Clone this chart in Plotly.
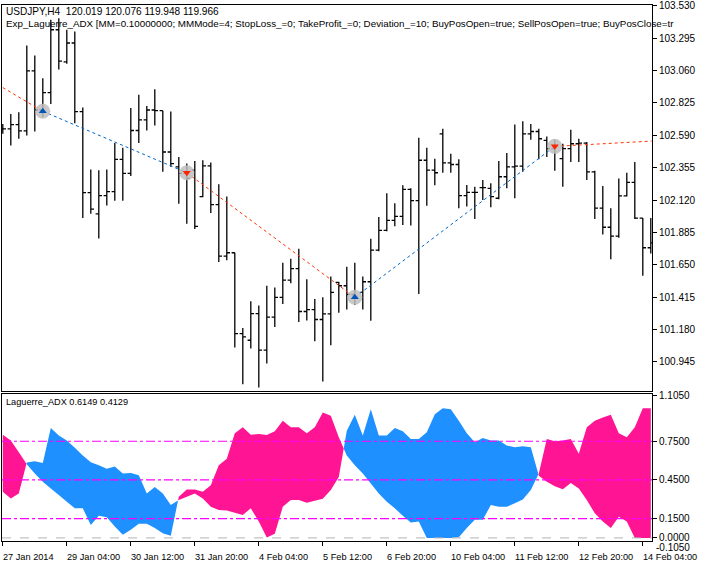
import plotly.graph_objects as go

# ---------------- data ----------------
opens = [102.637,102.637,102.668,102.623,103.059,102.774,102.901,103.357,103.124,103.261,
         102.762,102.174,102.020,102.152,102.181,102.416,102.313,102.625,102.702,102.774,
         102.769,102.469,102.361,102.313,102.337,102.145,102.368,102.087,101.713,101.737,
         101.149,101.101,101.295,101.029,101.269,101.413,101.538,101.622,101.310,101.324,
         101.252,101.293,101.521,101.497,101.435,101.449,101.526,101.756,101.900,101.972,
         102.001,102.198,102.116,102.409,102.337,102.601,102.390,102.378,102.152,102.176,
         102.210,102.205,102.133,102.289,102.361,102.366,102.601,102.618,102.553,102.493,
         102.421,102.493,102.529,102.534,102.325,102.061,101.922,101.857,102.150,102.248,
         101.989,101.773]
highs = [102.673,102.745,102.757,103.242,103.170,103.004,103.429,103.441,103.357,103.345,
         102.793,102.342,102.337,102.342,102.534,102.500,102.788,102.884,102.803,102.925,
         102.769,102.764,102.433,102.385,102.404,102.409,102.392,102.234,102.145,101.737,
         101.190,101.384,101.353,101.497,101.485,101.665,101.694,101.766,101.545,101.401,
         101.413,101.564,101.526,101.636,101.665,101.564,101.838,101.996,102.169,102.097,
         102.227,102.205,102.572,102.500,102.419,102.637,102.457,102.416,102.229,102.217,
         102.265,102.241,102.404,102.462,102.668,102.692,102.673,102.637,102.582,102.558,
         102.529,102.630,102.565,102.541,102.332,102.222,102.061,102.277,102.318,102.397,
         101.989,101.989]
lows = [102.601,102.517,102.565,102.589,102.618,102.721,102.817,103.069,103.110,102.678,
        101.989,102.020,101.840,102.080,102.114,102.114,102.294,102.534,102.625,102.661,
        102.325,102.361,102.092,101.948,101.910,102.140,102.025,101.670,101.682,101.048,
        100.782,101.041,100.758,100.933,101.197,101.365,101.516,101.233,101.245,101.094,
        100.801,101.065,101.300,101.324,101.358,101.324,101.243,101.747,101.893,101.929,
        101.939,101.934,101.437,102.078,102.227,102.318,102.318,102.061,102.073,101.982,
        102.121,102.068,102.126,102.205,102.133,102.325,102.558,102.416,102.433,102.332,
        102.217,102.397,102.397,102.265,101.982,101.869,101.689,101.845,102.145,101.982,
        101.569,101.732]
closes = [102.637,102.668,102.623,103.059,102.774,102.901,103.357,103.129,103.261,102.762,
          102.174,102.054,102.152,102.181,102.416,102.313,102.625,102.702,102.774,102.769,
          102.469,102.385,102.313,102.277,101.929,102.368,102.087,101.713,101.737,101.149,
          101.125,101.295,101.029,101.269,101.413,101.538,101.622,101.310,101.324,101.252,
          101.293,101.449,101.497,101.435,101.413,101.526,101.756,101.900,101.972,102.001,
          102.198,102.116,102.409,102.337,102.318,102.390,102.378,102.152,102.176,102.176,
          102.210,102.145,102.289,102.361,102.366,102.601,102.618,102.565,102.493,102.510,
          102.493,102.529,102.534,102.325,102.061,101.922,101.857,102.150,102.248,101.989,
          101.773,101.809]

adx_a = [0.801,0.755,0.665,0.571,0.499,0.435,0.383,0.332,0.281,0.230,
         0.230,0.101,0.171,0.160,0.088,0.024,0.063,0.109,0.109,0.076,
         0.037,0.017,0.319,0.376,0.376,0.358,0.409,0.563,0.614,0.812,
         0.858,0.801,0.806,0.799,0.827,0.909,0.858,0.858,0.812,0.858,
         0.973,0.947,0.781,0.640,0.563,0.499,0.422,0.345,0.281,0.230,
         0.171,0.119,0.127,0.000,0.000,0.000,0.000,0.006,0.076,0.140,
         0.140,0.255,0.242,0.242,0.268,0.299,0.371,0.499,0.768,0.750,
         0.755,0.768,0.653,0.858,0.909,0.935,0.955,0.812,0.781,0.858,
         1.006,1.006]
adx_b = [0.358,0.306,0.345,0.586,0.594,0.581,0.853,0.794,0.755,0.699,
         0.640,0.588,0.563,0.537,0.555,0.499,0.504,0.486,0.345,0.396,
         0.345,0.255,0.294,0.319,0.345,0.306,0.242,0.217,0.212,0.196,
         0.178,0.230,0.127,0.004,0.032,0.242,0.294,0.294,0.273,0.289,
         0.304,0.371,0.473,0.832,0.955,0.794,0.999,0.794,0.794,0.853,
         0.827,0.768,0.768,0.819,0.960,1.006,0.999,0.909,0.812,0.742,
         0.776,0.755,0.755,0.717,0.704,0.712,0.704,0.483,0.435,0.401,
         0.378,0.427,0.383,0.294,0.191,0.127,0.076,0.165,0.127,0.000,
         0.000,0.000]

trade_x = [0, 5, 23, 44, 69, 81.1]
trade_y = [102.937, 102.765, 102.318, 101.413, 102.510, 102.548]
trade_colors = ["#ff3300", "#0066cc", "#ff3300", "#0066cc", "#ff3300"]
sig_x = [5, 23, 44, 69]
sig_y = [102.765, 102.318, 101.413, 102.510]
sig_kind = ["buy", "sell", "buy", "sell"]

price_ticks = [103.530,103.295,103.060,102.825,102.590,102.355,102.120,101.885,101.650,101.415,101.180,100.945]
ind_ticks = [1.105, 0.75, 0.45, 0.15, 0.0]
levels = [0.75, 0.45, 0.15]
date_pos = [0, 8, 16, 24, 32, 40, 48, 56, 64, 72, 80]
date_labels = ["27 Jan 2014", "29 Jan 04:00", "30 Jan 12:00", "31 Jan 20:00", "4 Feb 04:00",
               "5 Feb 12:00", "6 Feb 20:00", "10 Feb 04:00", "11 Feb 12:00", "12 Feb 20:00", "14 Feb 04:00"]

PINK = "#ff1493"
BLUE = "#1e90ff"
FONT = "Liberation Sans"

n = len(opens)
xs = list(range(n))

fig = go.Figure()

# ---------------- main price pane ----------------
fig.add_trace(go.Ohlc(x=xs, open=opens, high=highs, low=lows, close=closes,
                      xaxis="x2", yaxis="y2", tickwidth=0.4,
                      increasing=dict(line=dict(color="black", width=1.3)),
                      decreasing=dict(line=dict(color="black", width=1.3)),
                      showlegend=False, hoverinfo="skip"))

for i in range(len(trade_x) - 1):
    fig.add_trace(go.Scatter(x=[trade_x[i], trade_x[i + 1]], y=[trade_y[i], trade_y[i + 1]],
                             mode="lines", xaxis="x2", yaxis="y2",
                             line=dict(color=trade_colors[i], width=1, dash="dot"),
                             showlegend=False, hoverinfo="skip"))

fig.add_trace(go.Scatter(x=sig_x, y=sig_y, mode="markers", xaxis="x2", yaxis="y2",
                         marker=dict(symbol="circle", size=15, color="rgba(190,190,190,0.85)"),
                         showlegend=False, hoverinfo="skip"))
fig.add_trace(go.Scatter(x=sig_x, y=sig_y, mode="markers", xaxis="x2", yaxis="y2",
                         marker=dict(symbol=["triangle-up" if k == "buy" else "triangle-down" for k in sig_kind],
                                     size=7,
                                     color=["#0055bb" if k == "buy" else "#ff2200" for k in sig_kind]),
                         showlegend=False, hoverinfo="skip"))

# ---------------- indicator pane ----------------
def add_poly(px, top, bot, col):
    fig.add_trace(go.Scatter(x=px + px[::-1], y=top + bot[::-1], fill="toself",
                             fillcolor=col, mode="none", xaxis="x", yaxis="y",
                             showlegend=False, hoverinfo="skip"))

d0 = adx_a[0] - adx_b[0]
cur = PINK if d0 >= 0 else BLUE
px, top, bot = [0], [max(adx_a[0], adx_b[0])], [min(adx_a[0], adx_b[0])]
for i in range(n - 1):
    da = adx_a[i] - adx_b[i]
    db = adx_a[i + 1] - adx_b[i + 1]
    if da * db < 0:
        t = da / (da - db)
        xc = i + t
        yc = adx_a[i] + t * (adx_a[i + 1] - adx_a[i])
        px.append(xc); top.append(yc); bot.append(yc)
        add_poly(px, top, bot, cur)
        cur = PINK if db >= 0 else BLUE
        px, top, bot = [xc], [yc], [yc]
    px.append(i + 1)
    top.append(max(adx_a[i + 1], adx_b[i + 1]))
    bot.append(min(adx_a[i + 1], adx_b[i + 1]))
add_poly(px, top, bot, cur)

shapes = []
for lv in levels:
    shapes.append(dict(type="line", xref="x domain", yref="y", x0=0, x1=1, y0=lv, y1=lv,
                       line=dict(color="#ff00ff", width=1.2, dash="dashdot")))
shapes.append(dict(type="line", xref="x domain", yref="y", x0=0, x1=1, y0=0, y1=0,
                   line=dict(color="#b4b4b4", width=1, dash="dash")))

annotations = [
    dict(text="USDJPY,H4  120.019 120.076 119.948 119.966", xref="paper", yref="paper",
         x=0, y=1, xanchor="left", yanchor="top", xshift=2, yshift=1, showarrow=False,
         font=dict(family=FONT, size=10.1, color="black")),
    dict(text="Exp_Laguerre_ADX [MM=0.10000000; MMMode=4; StopLoss_=0; TakeProfit_=0; Deviation_=10; "
              "BuyPosOpen=true; SellPosOpen=true; BuyPosClose=tr",
         xref="paper", yref="paper", x=0, y=1, xanchor="left", yanchor="top", xshift=2, yshift=-11,
         showarrow=False, font=dict(family=FONT, size=9.8, color="black")),
    dict(text="Laguerre_ADX 0.6149 0.4129", xref="paper", yref="paper", x=0, y=0.2736,
         xanchor="left", yanchor="top", xshift=2, yshift=-1, showarrow=False,
         font=dict(family=FONT, size=9.2, color="black")),
    dict(text="-0.1050", xref="paper", yref="y", x=1, y=0, xanchor="left", yanchor="middle",
         xshift=2, yshift=-10, showarrow=False, font=dict(family=FONT, size=10, color="black")),
]
for p, lab in zip(date_pos, date_labels):
    annotations.append(dict(text=lab, xref="x", yref="paper", x=p, y=0, xanchor="left",
                            yanchor="top", xshift=-2, yshift=-9, showarrow=False,
                            font=dict(family=FONT, size=9.2, color="black")))

xrange = [-0.1, 81.15]
axis_common = dict(showline=True, linecolor="black", linewidth=1, mirror=True,
                   showgrid=False, zeroline=False)

fig.update_layout(
    width=705, height=571,
    margin=dict(l=2, r=53, t=1, b=30),
    paper_bgcolor="white", plot_bgcolor="white",
    font=dict(family=FONT, size=10, color="black"),
    xaxis=dict(domain=[0, 1], anchor="y", range=xrange, tickvals=date_pos,
               ticktext=[""] * len(date_pos), ticks="outside", ticklen=4, tickcolor="black",
               **axis_common),
    yaxis=dict(domain=[0, 0.2736], anchor="x", side="right", range=[-0.024, 1.114],
               tickvals=ind_ticks, ticktext=["%.4f" % v for v in ind_ticks],
               ticks="outside", ticklen=4, tickcolor="black",
               tickfont=dict(family=FONT, size=10), **axis_common),
    xaxis2=dict(domain=[0, 1], anchor="y2", range=xrange, showticklabels=False,
                rangeslider=dict(visible=False), ticks="", **axis_common),
    yaxis2=dict(domain=[0.279, 1], anchor="x2", side="right", range=[100.729, 103.537],
                tickvals=price_ticks, ticktext=["%.3f" % v for v in price_ticks],
                ticks="outside", ticklen=4, tickcolor="black",
                tickfont=dict(family=FONT, size=10), **axis_common),
    shapes=shapes,
    annotations=annotations,
)

fig.write_html("out.html", config={"displayModeBar": False},
               post_script="document.body.style.margin='0';document.body.style.overflow='hidden';")
